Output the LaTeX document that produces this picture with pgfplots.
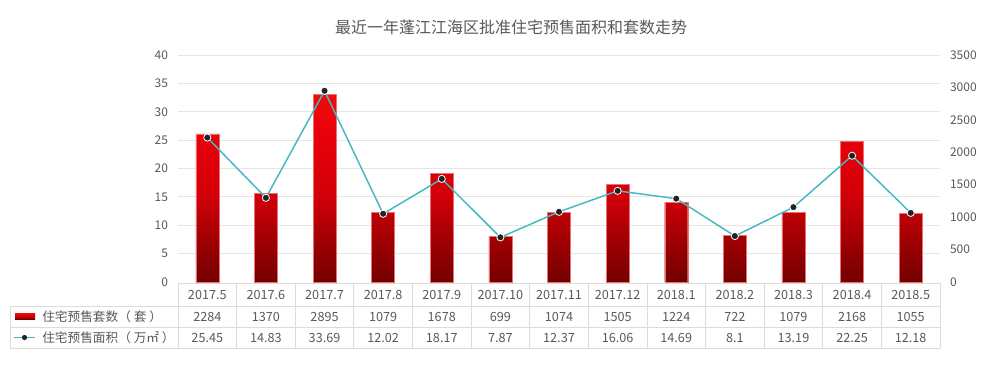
\documentclass[border=0pt]{standalone}
\usepackage{pgfplots}
\pgfplotsset{compat=1.18}
\usepackage{pgfplotstable}
\usepackage{fontspec}
\setmainfont{Noto Sans CJK SC}
\definecolor{gridc}{HTML}{E6E6E6}
\definecolor{tablec}{HTML}{DCDCDC}
\definecolor{textgray}{HTML}{595959}
\definecolor{bartop}{HTML}{F00A0A}
\definecolor{barhi}{HTML}{E8000A}
\definecolor{barmid}{HTML}{D20008}
\definecolor{barbot}{HTML}{720000}
\definecolor{barline}{HTML}{EC7070}
\definecolor{linec}{HTML}{45B8C0}
\definecolor{markc}{HTML}{222222}
\pgfdeclareverticalshading{barshade}{100bp}{color(0bp)=(barbot); color(25bp)=(barbot); color(48bp)=(barmid); color(64bp)=(barhi); color(75bp)=(bartop); color(100bp)=(bartop)}

\pgfplotstableread{
i units area
0 2284 25.45
1 1370 14.83
2 2895 33.69
3 1079 12.02
4 1678 18.17
5 699 7.87
6 1074 12.37
7 1505 16.06
8 1224 14.69
9 722 8.1
10 1079 13.19
11 2168 22.25
12 1055 12.18
}\data

\begin{document}
\begin{tikzpicture}
\begin{scope}[x=0.75pt,y=-0.75pt]
\useasboundingbox (0,0) rectangle (1000,365);
\end{scope}

\pgfplotsset{common/.style={
  at={(133.5pt,-211.5pt)}, anchor=south west,
  scale only axis, width=571.5pt, height=170.25pt,
  xmin=-0.5, xmax=12.5, ymin=0,
  axis x line=none,
  y axis line style={draw=none},
  major tick length=0pt,
  scaled y ticks=false,
  /pgf/number format/assume math mode=true,
  /pgf/number format/1000 sep={},
  yticklabel style={text=textgray, font=\fontsize{9}{10}\selectfont},
}}

% bars on the right axis (sets)
\begin{axis}[common,
  ymax=3500,
  axis y line*=right,
  ytick={0,500,...,3500},
  yticklabel style={xshift=4pt},
  extra y ticks={437.5,875,1312.5,1750,2187.5,2625,3062.5,3500},
  extra y tick labels={},
  extra y tick style={grid=major, major grid style={gridc, line width=0.6pt}},
]
\addplot[ybar, bar width=17.25pt, bar shift=0pt,
  shading=barshade, draw=barline, line width=0.3pt]
  table[x=i, y=units]{\data};
\end{axis}

% line on the left axis (area)
\begin{axis}[common,
  ymax=40,
  axis y line*=left,
  ytick={0,5,...,40},
  yticklabel style={xshift=-4pt},
]
\addplot[color=linec, line width=1.1pt, mark=*, mark size=2.7pt,
  mark options={fill=markc, draw=white, line width=0.6pt}]
  table[x=i, y=area]{\data};
\end{axis}

\begin{scope}[x=0.75pt,y=-0.75pt]
\node[text=textgray, font=\fontsize{12}{14}\selectfont] at (511,27) {最近一年蓬江江海区批准住宅预售面积和套数走势};

% table grid
\draw[tablec, line width=0.6pt] (178,283) -- (940,283);
\foreach \yy in {306,327,348} \draw[tablec, line width=0.6pt] (10,\yy) -- (940,\yy);
\draw[tablec, line width=0.6pt] (10,306) -- (10,348);
\foreach \k in {0,...,13} \draw[tablec, line width=0.6pt] ({178+58.615*\k},283) -- ({178+58.615*\k},348);

% legend cells
\shade[shading=barshade] (15,313) rectangle (35,319);
\draw[linec, line width=1.1pt] (14,337.5) -- (35,337.5);
\fill[markc] (24.5,337.5) circle (2.6);
\node[anchor=west, text=textgray, font=\fontsize{9.5}{11}\selectfont, inner sep=0pt] at (42,316.5) {住宅预售套数（ 套 ）};
\node[anchor=west, text=textgray, font=\fontsize{9.5}{11}\selectfont, inner sep=0pt] at (42,337.5) {住宅预售面积（ 万㎡ ）};

\foreach \m [count=\k from 0] in {2017.5,2017.6,2017.7,2017.8,2017.9,2017.10,2017.11,2017.12,2018.1,2018.2,2018.3,2018.4,2018.5}
  \node[text=textgray, font=\fontsize{9.5}{11}\selectfont] at ({207.31+58.615*\k},295) {\m};
\foreach \m [count=\k from 0] in {2284,1370,2895,1079,1678,699,1074,1505,1224,722,1079,2168,1055}
  \node[text=textgray, font=\fontsize{9.5}{11}\selectfont] at ({207.31+58.615*\k},316.5) {\m};
\foreach \m [count=\k from 0] in {25.45,14.83,33.69,12.02,18.17,7.87,12.37,16.06,14.69,8.1,13.19,22.25,12.18}
  \node[text=textgray, font=\fontsize{9.5}{11}\selectfont] at ({207.31+58.615*\k},337.5) {\m};
\end{scope}
\end{tikzpicture}
\end{document}
